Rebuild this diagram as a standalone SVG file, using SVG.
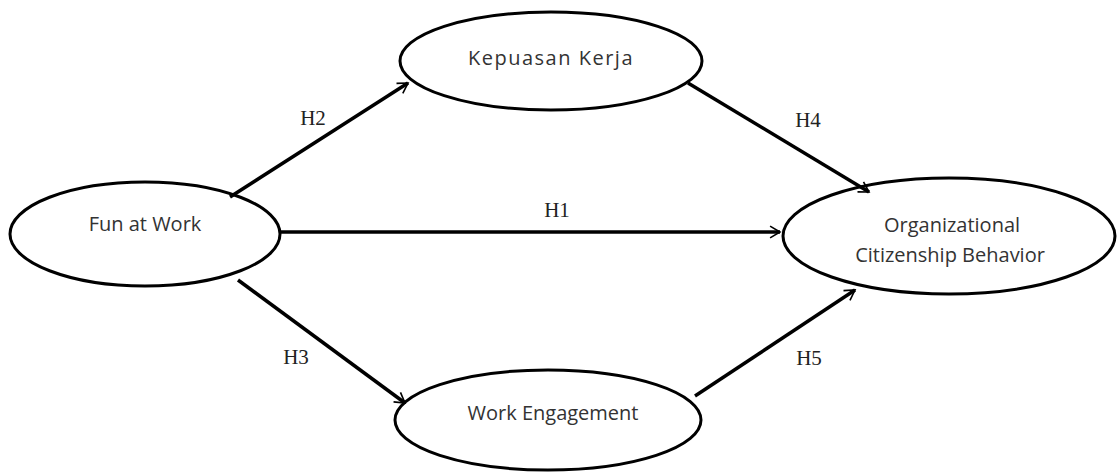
<svg xmlns="http://www.w3.org/2000/svg" width="1118" height="473" viewBox="0 0 1118 473">
<style>
.node{fill:#fff;stroke:#000;stroke-width:3}
.lbl{font-family:"Open Sans","DejaVu Sans",sans-serif;font-size:20px;fill:#333;text-anchor:middle}
.h{font-family:"Liberation Serif",serif;font-size:21px;fill:#222;text-anchor:middle}
.edge{stroke:#000;stroke-width:3.5;fill:none;marker-end:url(#arr)}
</style>
<defs>
<marker id="arr" viewBox="0 0 12 12" refX="10" refY="6" markerWidth="7" markerHeight="7" markerUnits="userSpaceOnUse" orient="auto" overflow="visible">
<polyline points="-7,-4 10,6 -7,16" fill="none" stroke="#000" stroke-width="2.8"/>
</marker>
</defs>
<rect width="1118" height="473" fill="#fff"/>
<g id="fun"><ellipse class="node" cx="145" cy="234" rx="135" ry="52"/><text class="lbl" x="145" y="231">Fun at Work</text></g>
<g id="kepuasan"><ellipse class="node" cx="551" cy="61" rx="151" ry="49"/><text class="lbl" x="551" y="65" letter-spacing="1.5">Kepuasan Kerja</text></g>
<g id="ocb"><ellipse class="node" cx="949" cy="236" rx="166" ry="58"/><text class="lbl" x="952" y="232">Organizational</text><text class="lbl" x="950" y="262">Citizenship Behavior</text></g>
<g id="engagement"><ellipse class="node" cx="548" cy="420" rx="153" ry="50"/><text class="lbl" x="553" y="420">Work Engagement</text></g>
<g id="connectors">
<line class="edge" x1="230" y1="197" x2="408" y2="83"/>
<line class="edge" x1="688" y1="83" x2="869" y2="192"/>
<line class="edge" x1="280" y1="232" x2="780" y2="232"/>
<line class="edge" x1="238" y1="280" x2="405" y2="403"/>
<line class="edge" x1="695" y1="396" x2="855" y2="290"/>
<text class="h" x="313" y="125">H2</text>
<text class="h" x="808" y="127">H4</text>
<text class="h" x="557" y="217">H1</text>
<text class="h" x="296" y="364">H3</text>
<text class="h" x="809" y="365">H5</text>
</g>
</svg>
